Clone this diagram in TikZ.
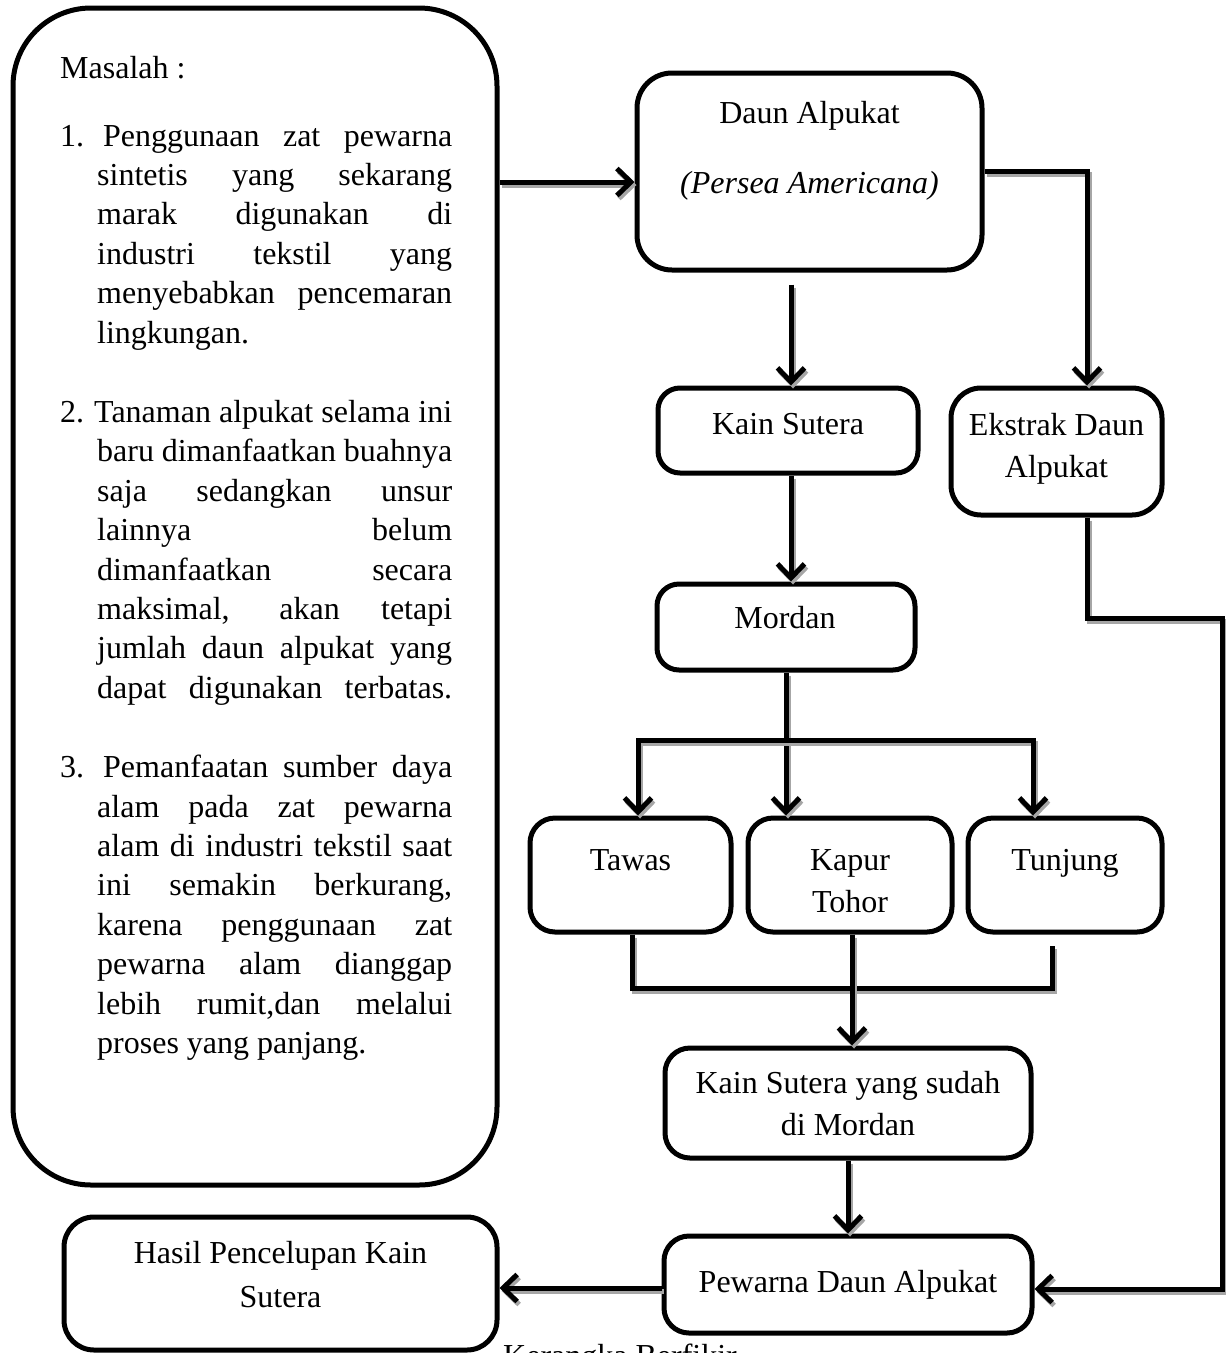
\documentclass[tikz,border=0pt]{standalone}
\usepackage{fontspec}
\setmainfont{Liberation Serif}
\usetikzlibrary{arrows.meta,calc}
\newcommand{\firstln}[3]{\makebox[392pt][s]{\makebox[24pt][l]{#1}\hspace{#3}#2}}
\newcommand{\contln}[1]{\hspace*{37pt}\makebox[355pt][s]{#1}}
\newcommand{\lastln}[1]{\hspace*{37pt}#1}
\begin{document}
\begin{tikzpicture}[x=1pt,y=-1pt,
  bx/.style={draw, line width=5pt, rounded corners=#1, inner sep=0pt, fill=white},
  txt/.style={anchor=base, inner sep=0pt, font=\fontsize{32pt}{40pt}\selectfont},
  shadowed/.style={preaction={draw=black!35, line width=5pt, transform canvas={shift={(2pt,-3pt)}}}},
  conn/.style={line width=5pt, -{Straight Barb[length=14pt,width=27pt]}, shadowed},
  plain/.style={line width=5pt, shadowed}]
\useasboundingbox (0,0) rectangle (1226,1353);
\clip (0,0) rectangle (1226,1353);

% boxes
\node[bx=78pt, minimum width=484pt, minimum height=1177pt] (prob) at (255,596.5) {};
\node[bx=35pt, minimum width=345pt, minimum height=197pt] (daun) at (809.5,171.5) {};
\node[bx=22pt, minimum width=260pt, minimum height=85pt] (kain) at (788,430.5) {};
\node[bx=30pt, minimum width=211pt, minimum height=127pt] (ekstrak) at (1056.5,451.5) {};
\node[bx=22pt, minimum width=258pt, minimum height=86pt] (mordan) at (786,627) {};
\node[bx=25pt, minimum width=201pt, minimum height=114pt] (tawas) at (630.5,875) {};
\node[bx=25pt, minimum width=204pt, minimum height=114pt] (kapur) at (850,875) {};
\node[bx=25pt, minimum width=194pt, minimum height=114pt] (tunjung) at (1065,875) {};
\node[bx=25pt, minimum width=366pt, minimum height=110pt] (sudah) at (848,1103) {};
\node[bx=25pt, minimum width=368pt, minimum height=97pt] (pewarna) at (848,1284.5) {};
\node[bx=30pt, minimum width=433pt, minimum height=133pt] (hasil) at (280.5,1283.5) {};

% problem text
\node[anchor=north west, inner sep=0pt, align=left, font=\fontsize{32pt}{39.4pt}\selectfont] (probtext) at (60,55.7) {%
Masalah :\\[28.6pt]
\firstln{1.}{Penggunaan zat pewarna}{19pt}\\
\contln{sintetis yang sekarang}\\
\contln{marak digunakan di}\\
\contln{industri tekstil yang}\\
\contln{menyebabkan pencemaran}\\
\lastln{lingkungan.}\\[40pt]
\firstln{2.}{Tanaman alpukat selama ini}{10pt}\\
\contln{baru dimanfaatkan buahnya}\\
\contln{saja sedangkan unsur}\\
\contln{lainnya belum}\\
\contln{dimanfaatkan secara}\\
\contln{maksimal, akan tetapi}\\
\contln{jumlah daun alpukat yang}\\
\contln{dapat digunakan terbatas.}\\[40pt]
\firstln{3.}{Pemanfaatan sumber daya}{19pt}\\
\contln{alam pada zat pewarna}\\
\contln{alam di industri tekstil saat}\\
\contln{ini semakin berkurang,}\\
\contln{karena penggunaan zat}\\
\contln{pewarna alam dianggap}\\
\contln{lebih rumit,dan melalui}\\
\lastln{proses yang panjang.}};

% box texts
\node[txt] (t1) at (809.5,123) {Daun Alpukat};
\node[txt] (t2) at (809.5,193) {\itshape (Persea Americana)};
\node[txt] (t3) at (788,434) {Kain Sutera};
\node[txt] (t4) at (1056.5,435) {Ekstrak Daun};
\node[txt] (t5) at (1056.5,477) {Alpukat};
\node[txt] (t6) at (785,628) {Mordan};
\node[txt] (t7) at (630.5,870) {Tawas};
\node[txt] (t8) at (850,870) {Kapur};
\node[txt] (t9) at (850,912) {Tohor};
\node[txt] (t10) at (1065,870) {Tunjung};
\node[txt] (t11) at (848,1093) {Kain Sutera yang sudah};
\node[txt] (t12) at (848,1135) {di Mordan};
\node[txt] (t13) at (848,1292) {Pewarna Daun Alpukat};
\node[txt] (t14) at (280.5,1263) {Hasil Pencelupan Kain};
\node[txt] (t15) at (280.5,1307) {Sutera};
\node[txt, anchor=base west] (caption) at (503,1366) {Kerangka Berfikir};

% helper coordinates
\coordinate (y182) at (0,182);
\coordinate (kaix) at (791,0);
\coordinate (ex) at (1087,0);
\coordinate (br) at (0,740);
\coordinate (tx) at (638,0);
\coordinate (ux) at (1033,0);
\coordinate (tax) at (632,0);
\coordinate (tux) at (1052,0);
\coordinate (kx) at (852,0);
\coordinate (jn) at (0,988);
\coordinate (y618) at (0,618);
\coordinate (rx) at (1222,0);
\coordinate (y1289) at (0,1289);
\coordinate (y1288) at (0,1288);

% connectors
\draw[conn] (prob.east |- y182) -- (daun.west |- y182);
\draw[conn] ($(kaix |- daun.south)+(0,12)$) -- (kaix |- kain.north);
\draw[conn] (daun.east) -| (ex |- ekstrak.north);
\draw[conn] (kaix |- kain.south) -- (kaix |- mordan.north);
\draw[conn] (mordan.south) -- (mordan.south |- kapur.north);
\draw[conn] (mordan.south |- br) -| (tx |- tawas.north);
\draw[conn] (mordan.south |- br) -| (ux |- tunjung.north);
\draw[plain] (tax |- tawas.south) -- (tax |- jn) -- (tux |- jn) -- ($(tux |- tunjung.south)+(0,11)$);
\draw[conn] (kx |- kapur.south) -- (kx |- sudah.north);
\draw[conn] (sudah.south) -- (pewarna.north);
\draw[conn] (ex |- ekstrak.south) -- (ex |- y618) -- (rx |- y618) -- (rx |- y1289) -- (pewarna.east |- y1289);
\draw[conn] (pewarna.west |- y1288) -- (hasil.east |- y1288);
\end{tikzpicture}
\end{document}
